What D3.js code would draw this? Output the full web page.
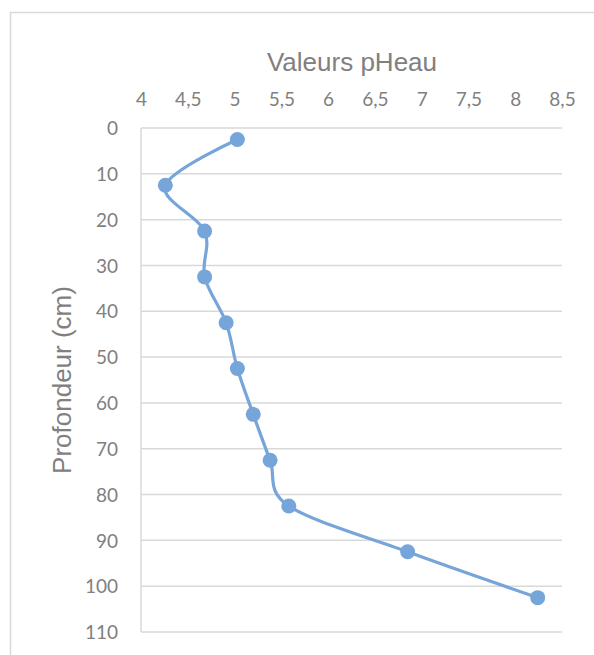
<!DOCTYPE html>
<html>
<head>
<meta charset="utf-8">
<script src="https://cdn.jsdelivr.net/npm/d3@7"></script>
<style>
  html, body { margin: 0; padding: 0; background: #fff; }
  svg { display: block; }
</style>
</head>
<body>
<svg id="chart" width="594" height="655"></svg>
<script>
// Data
const depths = [2.5, 12.5, 22.5, 32.5, 42.5, 52.5, 62.5, 72.5, 82.5, 92.5, 102.5];
const phValues = [5.03, 4.26, 4.68, 4.68, 4.91, 5.03, 5.20, 5.38, 5.58, 6.85, 8.24];
const xTicks = [4, 4.5, 5, 5.5, 6, 6.5, 7, 7.5, 8, 8.5];
const yTicks = [0, 10, 20, 30, 40, 50, 60, 70, 80, 90, 100, 110];
const xTitle = "Valeurs pHeau";
const yTitle = "Profondeur (cm)";

const svg = d3.select("#chart");
const plot = { left: 141, right: 562, top: 128, bottom: 632 };
const lineColor = "#76a5da";
const gridColor = "#d9d9d9";
const textColor = "#808080";
const tickFont = "Lato, 'Liberation Sans', sans-serif";
const titleFont = "'Liberation Sans', Arial, sans-serif";

// Chart area border (extends beyond frame on right/bottom)
svg.append("rect")
  .attr("x", 10.5).attr("y", 12.5)
  .attr("width", 640).attr("height", 700)
  .attr("fill", "#fff")
  .attr("stroke", gridColor).attr("stroke-width", 1.5);

const x = d3.scaleLinear().domain([4, 8.5]).range([plot.left, plot.right]);
const y = d3.scaleLinear().domain([0, 110]).range([plot.top, plot.bottom]);

// Horizontal gridlines
svg.append("g")
  .selectAll("line")
  .data(yTicks)
  .join("line")
  .attr("x1", plot.left).attr("x2", plot.right)
  .attr("y1", d => y(d)).attr("y2", d => y(d))
  .attr("stroke", gridColor).attr("stroke-width", 1.5);

// Left axis line
svg.append("line")
  .attr("x1", plot.left).attr("x2", plot.left)
  .attr("y1", y(0)).attr("y2", y(110))
  .attr("stroke", gridColor).attr("stroke-width", 1.5);

// Top axis tick labels
const xAxis = d3.axisTop(x).tickValues(xTicks).tickSize(0).tickPadding(0)
  .tickFormat(d => String(d).replace(".", ","));
const gx = svg.append("g").attr("transform", `translate(0, 106)`).call(xAxis);
gx.select(".domain").remove();
gx.selectAll("text")
  .attr("fill", textColor)
  .style("font-family", tickFont)
  .style("font-size", "19px")
  .attr("dy", "0");

// Left axis tick labels
const yAxis = d3.axisLeft(y).tickValues(yTicks).tickSize(0).tickPadding(0);
const gy = svg.append("g").attr("transform", `translate(118, 0)`).call(yAxis);
gy.select(".domain").remove();
gy.selectAll("text")
  .attr("fill", textColor)
  .style("font-family", tickFont)
  .style("font-size", "19px")
  .attr("dy", "0.35em");

// Titles
svg.append("text")
  .attr("x", 352).attr("y", 71)
  .attr("text-anchor", "middle")
  .attr("fill", textColor)
  .style("font-family", titleFont)
  .style("font-size", "26px")
  .text(xTitle);

svg.append("text")
  .attr("transform", `translate(71, 380) rotate(-90)`)
  .attr("text-anchor", "middle")
  .attr("fill", textColor)
  .style("font-family", titleFont)
  .style("font-size", "26px")
  .text(yTitle);

// Series
const pts = depths.map((d, i) => ({ depth: d, ph: phValues[i] }));

const line = d3.line()
  .x(d => x(d.ph))
  .y(d => y(d.depth))
  .curve(d3.curveCatmullRom.alpha(0));

svg.append("path")
  .datum(pts)
  .attr("d", line)
  .attr("fill", "none")
  .attr("stroke", lineColor)
  .attr("stroke-width", 3.2)
  .attr("stroke-linejoin", "round")
  .attr("stroke-linecap", "round");

svg.append("g")
  .selectAll("circle")
  .data(pts)
  .join("circle")
  .attr("cx", d => x(d.ph))
  .attr("cy", d => y(d.depth))
  .attr("r", 7.5)
  .attr("fill", lineColor);
</script>
</body>
</html>
